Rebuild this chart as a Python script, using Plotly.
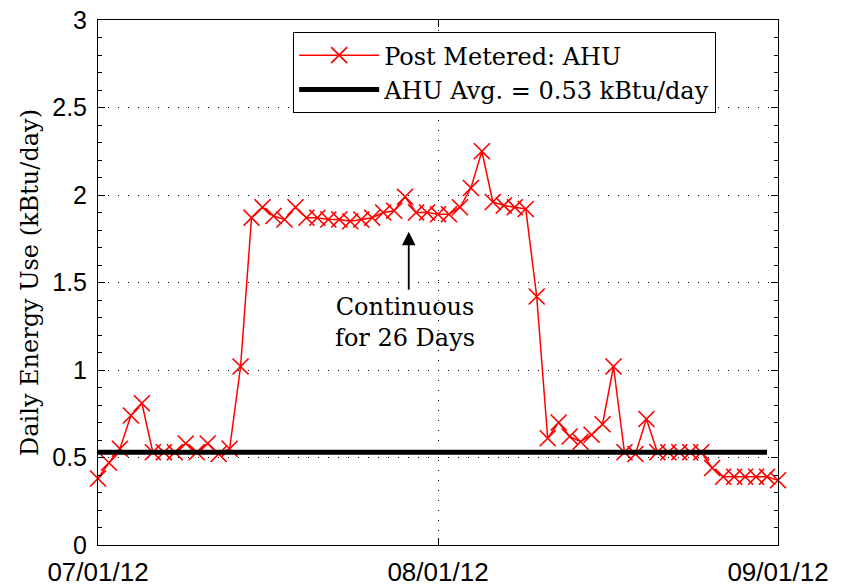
import pandas as pd
import plotly.graph_objects as go

start_date = "2012-07-01"
n_days = 63
dates = pd.date_range(start_date, periods=n_days, freq="D")

energy = [0.38, 0.47, 0.55, 0.74, 0.81, 0.53, 0.53, 0.53, 0.58, 0.53,
          0.58, 0.52, 0.55, 1.02, 1.87, 1.93, 1.88, 1.86, 1.93, 1.87,
          1.87, 1.86, 1.86, 1.85, 1.86, 1.87, 1.90, 1.91, 1.99, 1.90,
          1.90, 1.89, 1.89, 1.93, 2.04, 2.25, 1.96, 1.94, 1.93, 1.92,
          1.42, 0.61, 0.70, 0.62, 0.59, 0.63, 0.69, 1.02, 0.53, 0.52,
          0.72, 0.53, 0.53, 0.53, 0.53, 0.53, 0.44, 0.39, 0.39, 0.39,
          0.39, 0.39, 0.37]

avg_value = 0.53
avg_x = ["2012-07-01", "2012-08-31"]

tick_dates = ["2012-07-01", "2012-08-01", "2012-09-01"]
tick_labels = ["07/01/12", "08/01/12", "09/01/12"]
y_ticks = [0, 0.5, 1, 1.5, 2, 2.5, 3]
y_tick_labels = ["0", "0.5", "1", "1.5", "2", "2.5", "3"]

serif = "DejaVu Serif, Liberation Serif, serif"
sans = "Liberation Sans, Arial, Helvetica, sans-serif"

fig = go.Figure()
fig.add_trace(go.Scatter(
    x=dates, y=energy, mode="lines+markers", name="Post Metered: AHU",
    line=dict(color="#ff0000", width=1.5),
    marker=dict(symbol="x-thin-open", size=16, color="#ff0000",
                line=dict(color="#ff0000", width=1.7)),
    cliponaxis=False,
))
fig.add_trace(go.Scatter(
    x=avg_x, y=[avg_value, avg_value], mode="lines",
    name="AHU Avg. = 0.53 kBtu/day",
    line=dict(color="black", width=5),
))

# arrow
fig.add_annotation(
    x="2012-07-29 08:00", y=1.79, ax="2012-07-29 08:00", ay=1.45,
    xref="x", yref="y", axref="x", ayref="y",
    text="", showarrow=True, arrowhead=2, arrowsize=1.5, arrowwidth=1.8,
    arrowcolor="black",
)
fig.add_annotation(
    x="2012-07-29", y=1.27, xref="x", yref="y",
    text="Continuous<br>for 26 Days", showarrow=False,
    font=dict(family=serif, size=24, color="black"),
    align="center",
)

# page body has an 8px margin, so figure is offset by 8px
fig.update_layout(
    width=836, height=580,
    margin=dict(l=90, r=66, t=12, b=43),
    paper_bgcolor="white", plot_bgcolor="white",
    showlegend=True,
    legend=dict(
        x=0.287, y=0.977, xanchor="left", yanchor="top",
        bgcolor="white", bordercolor="black", borderwidth=1,
        font=dict(family=serif, size=24, color="black"),
        itemwidth=80, tracegroupgap=0,
    ),
)

fig.update_xaxes(
    type="date", range=["2012-07-01", "2012-09-01"], automargin=False,
    tickvals=tick_dates, ticktext=tick_labels, ticklabeloverflow="allow",
    tickfont=dict(family=sans, size=26, color="black"),
    ticklabelstandoff=4,
    showline=True, linecolor="black", linewidth=1, mirror="ticks",
    ticks="inside", ticklen=7, tickcolor="black",
    showgrid=True, gridcolor="black", gridwidth=1, griddash="1px,9px",
    zeroline=False,
)
fig.update_yaxes(
    range=[0, 3], tickvals=y_ticks, ticktext=y_tick_labels, automargin=False,
    ticklabeloverflow="allow",
    tickfont=dict(family=sans, size=25, color="black"),
    ticklabelstandoff=5,
    showline=True, linecolor="black", linewidth=1, mirror="ticks",
    ticks="inside", ticklen=7, tickcolor="black",
    minor=dict(dtick=0.1, ticks="inside", ticklen=4, tickcolor="black", showgrid=False),
    showgrid=True, gridcolor="black", gridwidth=1, griddash="1px,9px",
    zeroline=False,
    title=dict(text="Daily Energy Use (kBtu/day)",
               font=dict(family=serif, size=24, color="black"), standoff=6),
)

fig.write_html("out.html")
